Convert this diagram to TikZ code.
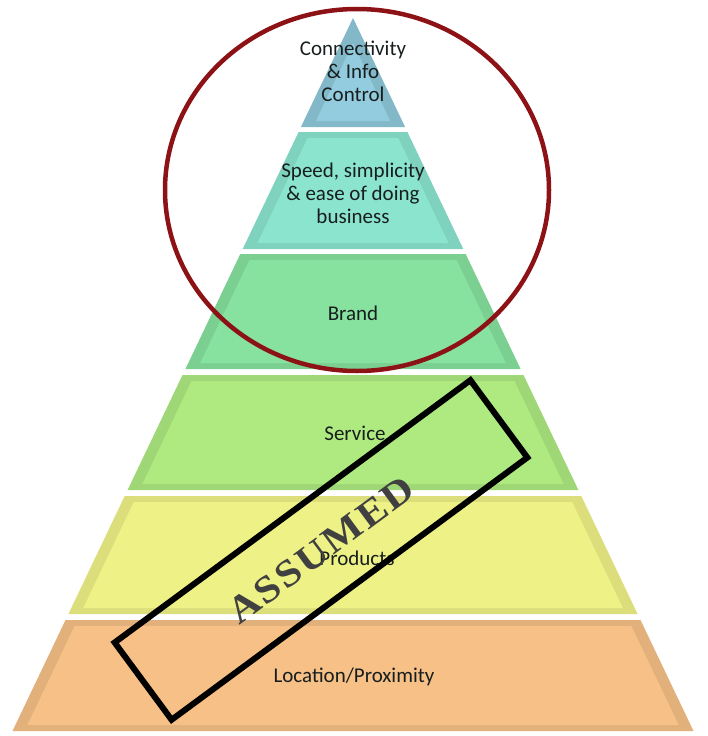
\documentclass[tikz,border=0pt]{standalone}
\usepackage{fontspec}
\setmainfont{Carlito}
\newfontfamily\stampfont[FakeStretch=1.12, LetterSpace=6]{Liberation Serif}

\definecolor{lvlA}{RGB}{146,204,222}
\definecolor{lvlB}{RGB}{138,228,206}
\definecolor{lvlC}{RGB}{134,226,158}
\definecolor{lvlD}{RGB}{174,234,128}
\definecolor{lvlE}{RGB}{238,241,134}
\definecolor{lvlF}{RGB}{246,192,134}
\definecolor{ringred}{RGB}{140,18,22}
\definecolor{textdark}{RGB}{24,30,30}

\begin{document}
\begin{tikzpicture}[x=1pt,y=-1pt]
\tikzstyle{every node}=[inner sep=0pt, text=textdark, align=center, font=\fontsize{21}{23}\selectfont]
\tikzstyle{stamp}=[draw=black, line width=6pt, rotate=36.4, minimum width=442pt, minimum height=96pt, text=black!75, font=\stampfont\bfseries\fontsize{38}{38}\selectfont]
\useasboundingbox (0,0) rectangle (707,736);
% pyramid layers, outer bevel then face
\fill[lvlA!90!black] (353,18) -- (405.1,127) -- (300.9,127) -- cycle;
\fill[lvlA] (353,43) -- (390.2,121) -- (315.8,121) -- cycle;
\fill[lvlB!92!black] (298.6,132) -- (407.4,132) -- (463.3,249) -- (242.7,249) -- cycle;
\fill[lvlB] (307.7,138) -- (398.3,138) -- (448.5,243) -- (257.5,243) -- cycle;
\fill[lvlC!92!black] (240.3,254) -- (465.7,254) -- (520.6,369) -- (185.4,369) -- cycle;
\fill[lvlC] (249.4,260) -- (456.6,260) -- (505.8,363) -- (200.2,363) -- cycle;
\fill[lvlD!92!black] (182.5,375) -- (523.5,375) -- (578.4,490) -- (127.6,490) -- cycle;
\fill[lvlD] (191.6,381) -- (514.4,381) -- (563.6,484) -- (142.4,484) -- cycle;
\fill[lvlE!92!black] (124.7,496) -- (581.3,496) -- (637.6,614) -- (68.4,614) -- cycle;
\fill[lvlE] (133.8,502) -- (572.2,502) -- (622.8,608) -- (83.2,608) -- cycle;
\fill[lvlF!92!black] (65.5,620) -- (640.5,620) -- (693.5,731) -- (12.5,731) -- cycle;
\fill[lvlF] (74.6,626) -- (631.4,626) -- (678.7,725) -- (27.3,725) -- cycle;
% labels
\draw (353,71) node (conn) {Connectivity\\\& Info\\Control};
\draw (353,193) node (speed) {Speed, simplicity\\\& ease of doing\\business};
\draw (353,313) node (brand) {Brand};
\draw (355,433) node (service) {Service};
\draw (357,558) node (products) {Products};
\draw (354,677) node (location) {Location/Proximity};
% highlight ring and stamp
\draw[ringred, line width=4.5pt] (357,190) ellipse [x radius=192, y radius=181];
\draw (321,550) node (assumed) [stamp] {ASSUMED};
\end{tikzpicture}
\end{document}
